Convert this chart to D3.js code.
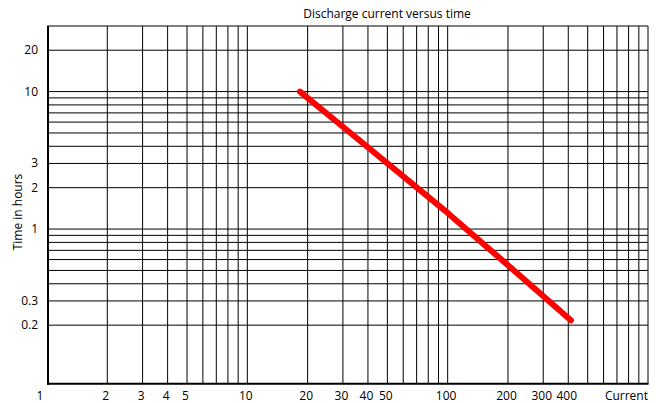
<!DOCTYPE html>
<html>
<head>
<meta charset="utf-8">
<script src="https://cdn.jsdelivr.net/npm/d3@7"></script>
<style>
  html, body { margin: 0; padding: 0; background: #fff; }
  text { font-family: "Open Sans", "DejaVu Sans", sans-serif; fill: #000; }
</style>
</head>
<body>
<svg id="chart" width="656" height="403"></svg>
<script>
// ---- data ----
const title = "Discharge current versus time";
const xTitle = "Current";
const yTitle = "Time in hours";
const currentDomain = [1, 1000];
const timeDomain = [0.075, 30];
const xGridValues = [2, 3, 4, 5, 6, 7, 8, 9, 10, 20, 30, 40, 50, 60, 70, 80, 90, 100, 200, 300, 400, 500, 600, 700, 800, 900];
const yGridValues = [0.2, 0.3, 0.4, 0.5, 0.6, 0.7, 0.8, 0.9, 1, 2, 3, 4, 5, 6, 7, 8, 9, 10, 20];
const xTickLabels = [1, 2, 3, 4, 5, 10, 20, 30, 40, 50, 100, 200, 300, 400];
const yTickLabels = [0.2, 0.3, 1, 2, 3, 10, 20];
const seriesCurrent = [18.3, 30, 100, 200, 412];
const seriesTime = [10, 5.55, 1.31, 0.545, 0.217];

// ---- layout ----
const svg = d3.select("#chart");
const pLeft = 47, pRight = 648, pTop = 26, pBottom = 383.7;
const x = d3.scaleLog().domain(currentDomain).range([pLeft, pRight]);
const y = d3.scaleLog().domain(timeDomain).range([pBottom, pTop]);
const fs = 12;

// grid
const g = svg.append("g");
g.selectAll("line.vx").data(xGridValues).join("line")
  .attr("x1", d => x(d)).attr("x2", d => x(d))
  .attr("y1", pTop).attr("y2", pBottom)
  .attr("stroke", "#000").attr("stroke-width", 1);
g.selectAll("line.hy").data(yGridValues).join("line")
  .attr("y1", d => y(d)).attr("y2", d => y(d))
  .attr("x1", pLeft).attr("x2", pRight)
  .attr("stroke", "#000").attr("stroke-width", 1);

// frame: top and right thin
g.append("line").attr("x1", pLeft).attr("x2", pRight).attr("y1", y(timeDomain[1])).attr("y2", y(timeDomain[1]))
  .attr("stroke", "#000").attr("stroke-width", 1);
g.append("line").attr("x1", x(currentDomain[1])).attr("x2", x(currentDomain[1])).attr("y1", pTop).attr("y2", pBottom)
  .attr("stroke", "#000").attr("stroke-width", 1);
// thick left and bottom axes
g.append("line").attr("x1", pLeft + 1).attr("x2", pLeft + 1).attr("y1", pTop).attr("y2", pBottom + 1)
  .attr("stroke", "#000").attr("stroke-width", 2);
g.append("line").attr("x1", pLeft).attr("x2", pRight + 0.5).attr("y1", pBottom).attr("y2", pBottom)
  .attr("stroke", "#000").attr("stroke-width", 2);

// series
const pts = seriesCurrent.map((c, i) => [c, seriesTime[i]]);
svg.append("path")
  .datum(pts)
  .attr("d", d3.line().x(d => x(d[0])).y(d => y(d[1])))
  .attr("fill", "none")
  .attr("stroke", "#ff0000")
  .attr("stroke-width", 6)
  .attr("stroke-linecap", "round")
  .attr("stroke-linejoin", "round");

// x tick labels
svg.selectAll("text.xt").data(xTickLabels).join("text")
  .attr("class", "xt")
  .attr("x", d => d === 1 ? x(d) - 7 : x(d) - 1.5)
  .attr("y", 400)
  .attr("text-anchor", "middle")
  .attr("font-size", fs)
  .text(d => d);
svg.append("text")
  .attr("x", pRight).attr("y", 400)
  .attr("text-anchor", "end").attr("font-size", fs)
  .text(xTitle);

// y tick labels
svg.selectAll("text.yt").data(yTickLabels).join("text")
  .attr("class", "yt")
  .attr("x", 38)
  .attr("y", d => y(d) + 4)
  .attr("text-anchor", "end")
  .attr("font-size", fs)
  .text(d => d);

// y title
svg.append("text")
  .attr("transform", "translate(22,212) rotate(-90)")
  .attr("text-anchor", "middle").attr("font-size", fs)
  .text(yTitle);

// title
svg.append("text")
  .attr("x", 387).attr("y", 18)
  .attr("text-anchor", "middle").attr("font-size", fs)
  .text(title);
</script>
</body>
</html>
